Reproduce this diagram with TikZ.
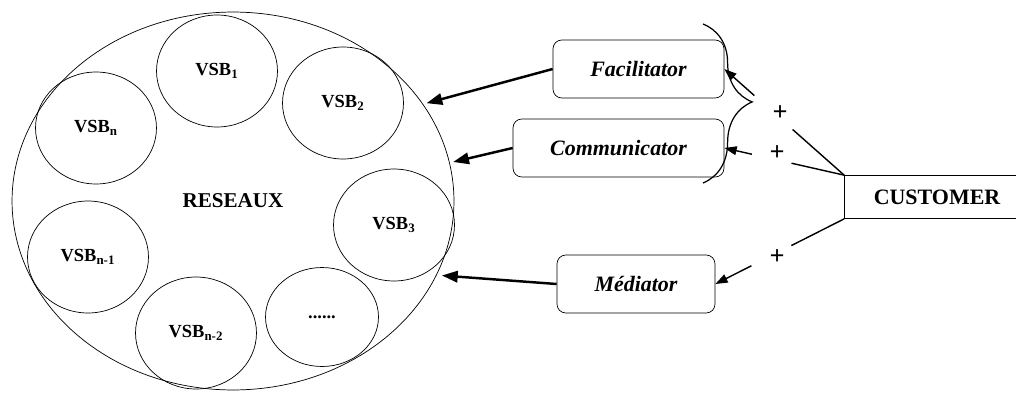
\documentclass[tikz,border=0pt]{standalone}
\usepackage{fontspec}
\setmainfont{Liberation Serif}
\usetikzlibrary{shapes.geometric,arrows.meta,calc,decorations.pathreplacing}
\tikzset{
  vsb/.style={draw,ellipse,inner sep=0pt,minimum width=2.42cm,minimum height=2.24cm,
    font=\bfseries\fontsize{10.5}{12}\selectfont},
  role/.style={draw,rounded corners=5pt,minimum height=1.16cm,
    font=\bfseries\itshape\fontsize{12.5}{14}\selectfont},
  link/.style={line width=1.4pt,-{Triangle[length=9pt,width=6.5pt]}},
  feed/.style={line width=0.8pt},
  feedtip/.style={feed,-{Triangle[length=7pt,width=5pt]}},
  plus/.style={font=\bfseries\fontsize{15}{16}\selectfont}
}
\begin{document}
\begin{tikzpicture}[x=0.02cm,y=-0.02cm]
  \useasboundingbox (0,0) rectangle (1016,392);
  % le reseau
  \node[draw,ellipse,inner sep=0pt,minimum width=8.84cm,minimum height=7.56cm,
    font=\bfseries\fontsize{12}{14}\selectfont] (net) at (233,201) {RESEAUX};
  \node[vsb] (v1) at (217,71) {VSB\textsubscript{1}};
  \node[vsb] (v2) at (343,103) {VSB\textsubscript{2}};
  \node[vsb] (v3) at (394,225) {VSB\textsubscript{3}};
  \node[vsb,minimum width=2.26cm,minimum height=1.98cm] (vdots) at (322,317) {......};
  \node[vsb] (vn2) at (196,333) {VSB\textsubscript{n-2}};
  \node[vsb] (vn1) at (88,257) {VSB\textsubscript{n-1}};
  \node[vsb] (vn) at (96,128) {VSB\textsubscript{n}};
  % les roles
  \node[role,minimum width=3.42cm] (fac) at (638.5,69) {Facilitator};
  \node[role,minimum width=4.22cm] (com) at (618.5,148) {Communicator};
  \node[role,minimum width=3.16cm] (med) at (636,284) {Médiator};
  \node[draw,minimum width=3.7cm,minimum height=0.86cm,
    font=\bfseries\fontsize{12.5}{14}\selectfont] (cust) at (937,197) {CUSTOMER};
  \draw[line width=0.7pt,decorate,decoration={brace,amplitude=28pt,aspect=0.49}]
    (703,24) -- (703,183);
  % vers le reseau
  \draw[link,shorten >=2pt] (fac.west) -- (net.27);
  \draw[link,shorten >=2pt] (com.west) -- (net.10);
  \draw[link,shorten >=3pt] (med.west) -- (net.-20);
  % depuis le client
  \draw[feed] (cust.north west) -- ($(cust.north west)!0.43!(fac.east)$);
  \draw[feedtip] ($(cust.north west)!0.75!(fac.east)$) -- (fac.east);
  \node[plus] (p1) at (780,113) {+};
  \draw[feed] (cust.north west) -- ($(cust.north west)!0.44!(com.east)$);
  \draw[feedtip] ($(cust.north west)!0.77!(com.east)$) -- (com.east);
  \node[plus] (p2) at (777,153) {+};
  \draw[feed] (cust.south west) -- ($(cust.south west)!0.41!(med.east)$);
  \draw[feedtip] ($(cust.south west)!0.72!(med.east)$) -- (med.east);
  \node[plus] (p3) at (777,257) {+};
\end{tikzpicture}
\end{document}
